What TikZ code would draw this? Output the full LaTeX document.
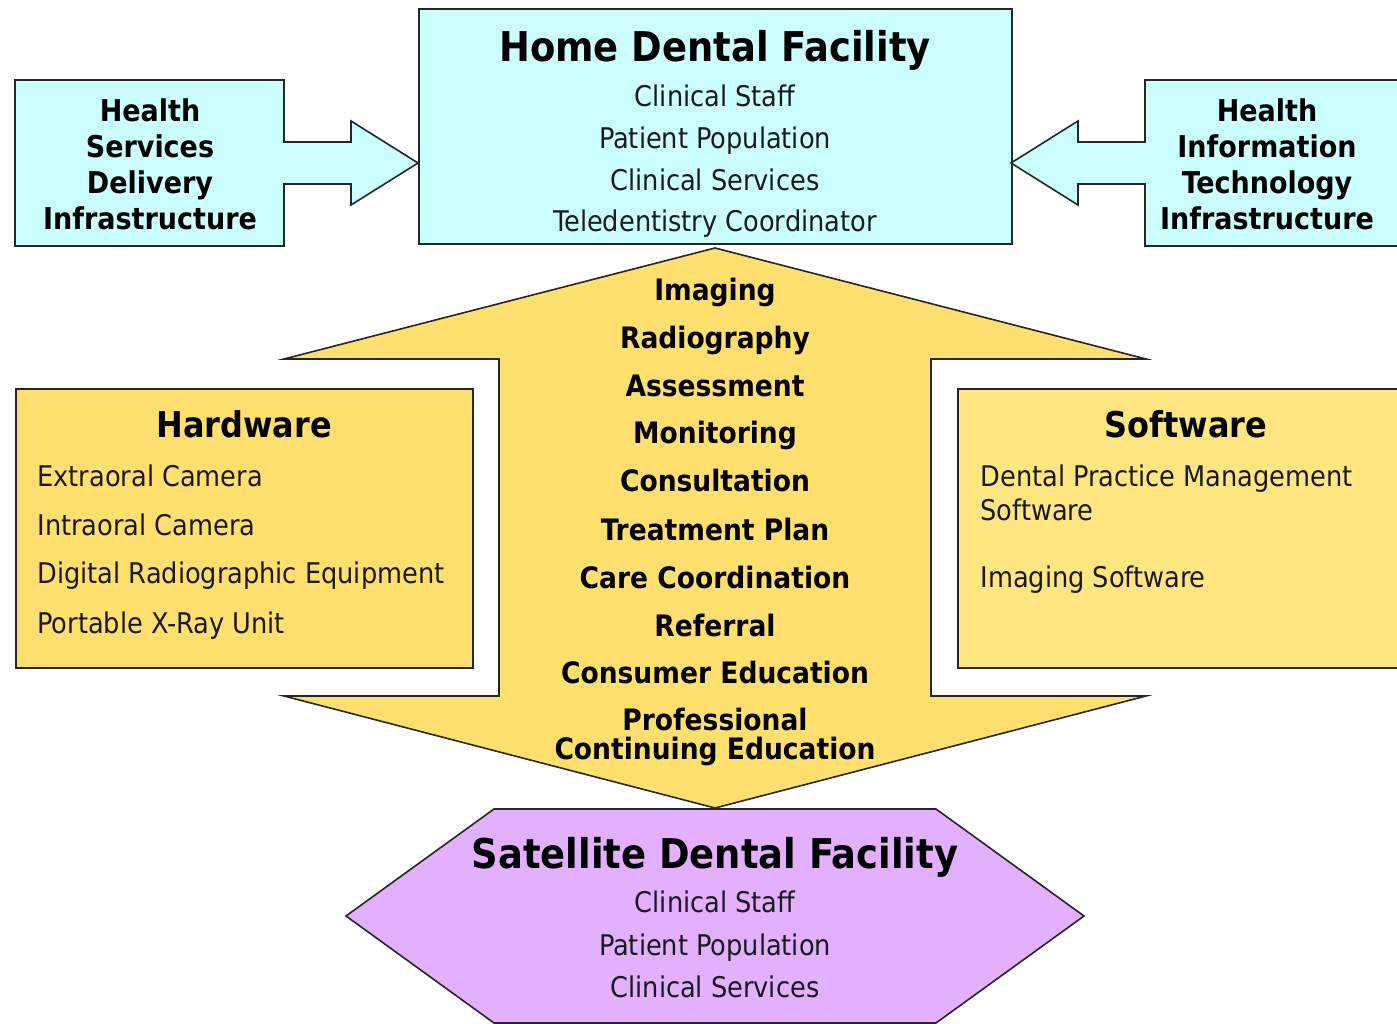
\documentclass[tikz,border=0pt]{standalone}
\usepackage{fontspec}
\setmainfont{DejaVu Sans Condensed}
\definecolor{homecyan}{HTML}{CCFFFF}
\definecolor{linkgold}{HTML}{FFE06E}
\definecolor{softgold}{HTML}{FFE680}
\definecolor{satlilac}{HTML}{E3B0FF}
\definecolor{inktext}{HTML}{1A1A1A}

\tikzset{
  shape line/.style={draw=black!85, line width=1.6pt, line join=miter},
  big title/.style={text height=30pt, text depth=0pt, font=\fontsize{41}{46}\selectfont\bfseries, text=black},
  box title/.style={text height=26pt, text depth=0pt, font=\fontsize{35.5}{40}\selectfont\bfseries, text=black},
  plain item/.style={text height=20.8pt, text depth=0pt, font=\fontsize{28.5}{34}\selectfont, text=inktext},
  plain lines/.style={font=\fontsize{28.5}{34}\selectfont, text=inktext, align=left},
  bold item/.style={text height=21.5pt, text depth=0pt, font=\fontsize{29.5}{29}\selectfont\bfseries, text=black},
  bold lines/.style={font=\fontsize{29.5}{29}\selectfont\bfseries, text=black, align=center},
  side label/.style={font=\fontsize{30}{36}\selectfont\bfseries, text=black, align=center}
}

\begin{document}
\begin{tikzpicture}[x=1pt,y=-1pt]
  \useasboundingbox (0,0) rectangle (1397,1024);

  % top: home facility with the two infrastructure arrows
  \node[shape line, fill=homecyan, anchor=north west, minimum width=593pt, minimum height=235pt] (home) at (418,8) {};
  \draw[shape line, fill=homecyan] (15,80) -- (284,80) -- (284,142) -- (351,142) -- (351,121) -- (418,163)
    -- (351,205) -- (351,184) -- (284,184) -- (284,246) -- (15,246) -- cycle;
  \draw[shape line, fill=homecyan] (1402,80) -- (1145,80) -- (1145,142) -- (1078,142) -- (1078,121) -- (1011,163)
    -- (1078,205) -- (1078,184) -- (1145,184) -- (1145,246) -- (1402,246) -- cycle;

  \node[big title] (hometitle) at (715,47) {Home Dental Facility};
  \node[plain item] (homestaff) at (715,96) {Clinical Staff};
  \node[plain item] (homepatients) at (715,138) {Patient Population};
  \node[plain item] (homeservices) at (715,180) {Clinical Services};
  \node[plain item] (homecoord) at (715,221) {Teledentistry Coordinator};

  \node[side label] (hsdi) at (150,164) {Health\\Services\\Delivery\\Infrastructure};
  \node[side label] (hiti) at (1267,164) {Health\\Information\\Technology\\Infrastructure};

  % middle: two-way arrow between the facilities
  \draw[shape line, fill=linkgold] (715,248) -- (1146,359) -- (931,359) -- (931,696) -- (1146,696) -- (715,808)
    -- (284,696) -- (499,696) -- (499,359) -- (284,359) -- cycle;

  \foreach \name/\ypos/\txt in {imaging/290/Imaging, radio/338/Radiography, assess/386/Assessment,
      monitor/433/Monitoring, consult/481/Consultation, plan/530/Treatment Plan,
      coord/578/Care Coordination, referral/626/Referral, consumer/673/Consumer Education}
    \node[bold item] (\name) at (715,\ypos) {\txt};
  \node[bold lines] (profed) at (715,737) {Professional\\Continuing Education};

  % side boxes
  \node[shape line, fill=linkgold, anchor=north west, minimum width=457pt, minimum height=279pt] (hardware) at (15,388) {};
  \node[shape line, fill=softgold, anchor=north west, minimum width=445pt, minimum height=279pt] (software) at (957,388) {};

  \node[box title] (hwtitle) at (244,424) {Hardware};
  \foreach \name/\ypos/\txt in {extracam/476/Extraoral Camera, intracam/525/Intraoral Camera,
      digirad/573/Digital Radiographic Equipment, xray/623/Portable X-Ray Unit}
    \node[plain item, anchor=west] (\name) at (34,\ypos) {\txt};

  \node[box title] (swtitle) at (1186,424) {Software};
  \node[plain lines, anchor=north west] (dpms) at (977,461) {Dental Practice Management\\Software};
  \node[plain item, anchor=west] (imgsw) at (977,577) {Imaging Software};

  % bottom: satellite facility
  \draw[shape line, fill=satlilac] (494,809) -- (936,809) -- (1084,916) -- (936,1023) -- (494,1023) -- (346,916) -- cycle;
  \node[big title] (sattitle) at (715,853) {Satellite Dental Facility};
  \node[plain item] (satstaff) at (715,902) {Clinical Staff};
  \node[plain item] (satpatients) at (715,945) {Patient Population};
  \node[plain item] (satservices) at (715,987) {Clinical Services};
\end{tikzpicture}
\end{document}
